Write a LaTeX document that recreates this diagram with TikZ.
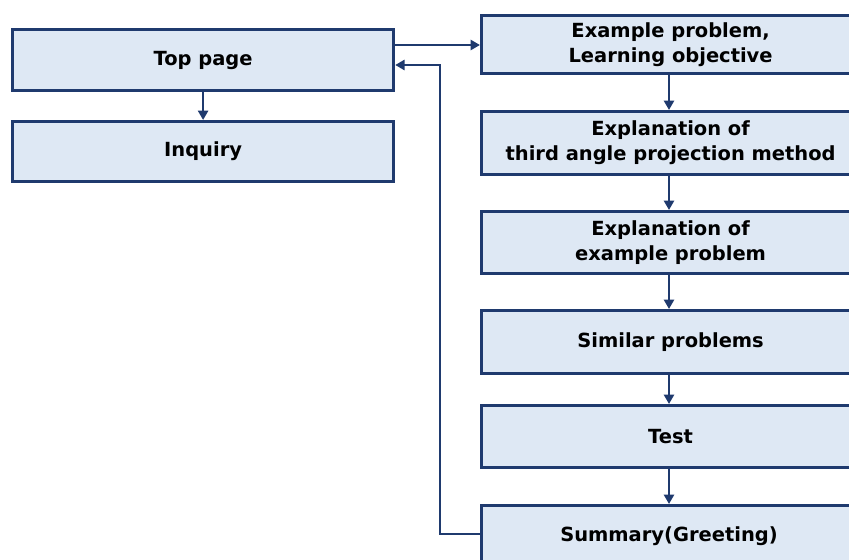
\documentclass[tikz,border=0pt]{standalone}
\usepackage{fontspec}
\setmainfont{DejaVu Sans}
\usetikzlibrary{arrows.meta}
\definecolor{boxfill}{HTML}{DEE8F4}
\definecolor{boxline}{HTML}{1F3A6E}
\tikzset{
  pagefont/.style={font=\bfseries\fontsize{14.6}{18.8}\selectfont},
  pagebox/.style={draw=boxline, line width=2.4pt, fill=boxfill, inner sep=0pt,
    pagefont, align=center, anchor=north west},
  link/.style={draw=boxline, line width=1.8pt, -{Triangle[length=7pt,width=7.5pt]}},
}
\begin{document}
\begin{tikzpicture}[x=0.75pt,y=-0.75pt]
  \useasboundingbox (0,0) rectangle (849,560);
  \clip (0,0) rectangle (849,560);
  % left column
  \node[pagebox, minimum width=381*0.75pt, minimum height=61*0.75pt] (top) at (11,28) {Top page};
  \node[pagebox, minimum width=381*0.75pt, minimum height=60*0.75pt] (inq) at (11,120) {Inquiry};
  % right column (boxes run past the right edge)
  \node[pagebox, minimum width=378*0.75pt, minimum height=58*0.75pt] (ex) at (480,14) {Example problem,\\Learning objective};
  \node[pagebox, minimum width=378*0.75pt, minimum height=63*0.75pt] (tap) at (480,110) {Explanation of\\third angle projection method};
  \node[pagebox, minimum width=378*0.75pt, minimum height=62*0.75pt] (exp) at (480,210) {Explanation of\\example problem};
  \node[pagebox, minimum width=378*0.75pt, minimum height=63*0.75pt] (sim) at (480,309) {Similar problems};
  \node[pagebox, minimum width=378*0.75pt, minimum height=62*0.75pt] (test) at (480,404) {Test};
  \node[pagebox, minimum width=378*0.75pt, minimum height=62*0.75pt] (sum) at (480,504) {};
  \node[pagefont] (sumtxt) at (669,536) {Summary(Greeting)};
  % connectors
  \draw[link] (top.south) -- (inq.north);
  \draw[link] (top.east |- 0,45) -- (ex.west |- 0,45);
  \draw[link] (ex.south -| 669,0) -- (tap.north -| 669,0);
  \draw[link] (tap.south -| 669,0) -- (exp.north -| 669,0);
  \draw[link] (exp.south -| 669,0) -- (sim.north -| 669,0);
  \draw[link] (sim.south -| 669,0) -- (test.north -| 669,0);
  \draw[link] (test.south -| 669,0) -- (sum.north -| 669,0);
  \coordinate (loopA) at (440,534);
  \coordinate (loopB) at (440,65);
  \draw[link] (sum.west |- loopA) -- (loopA) -- (loopB) -- (top.east |- loopB);
\end{tikzpicture}
\end{document}
